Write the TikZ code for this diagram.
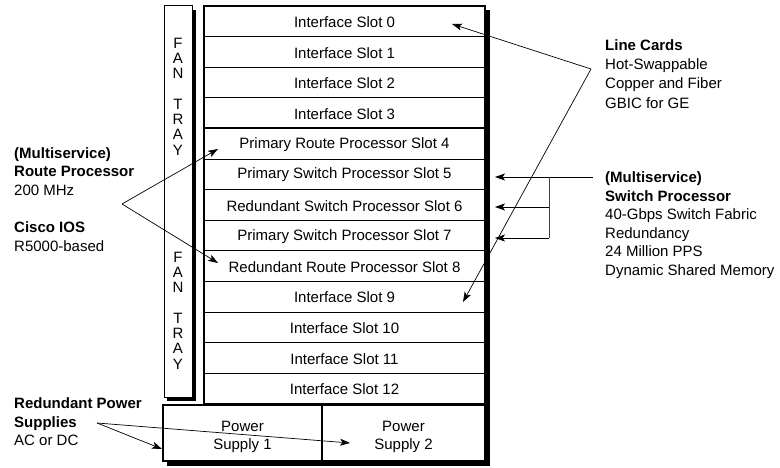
\documentclass[tikz,border=0pt]{standalone}
\usepackage{fontspec}
\setmainfont{Liberation Sans}
\usetikzlibrary{arrows.meta}
\begin{document}
\begin{tikzpicture}[x=1pt,y=-1pt,
  slotbox/.style={draw, line width=0.8pt, minimum width=281pt, minimum height=30.6pt,
    inner sep=0pt, outer sep=0pt, font=\fontsize{15}{17}\selectfont, anchor=north west},
  psbox/.style={draw, line width=1.2pt, minimum height=56pt, inner sep=0pt, outer sep=0pt,
    align=center, font=\fontsize{15}{18}\selectfont, anchor=north west},
  lbl/.style={font=\fontsize{15}{18.6}\selectfont, align=left, anchor=north west, inner sep=0pt},
  fanletter/.style={font=\fontsize{15}{17}\selectfont, inner sep=0pt},
  arr/.style={-{Stealth[length=10pt,width=7pt,inset=2.5pt]}, line width=0.7pt},
  thin/.style={line width=0.7pt},
  thick sep/.style={line width=1.8pt},
  ]
\useasboundingbox (0,0) rectangle (780,468);

% shadows
\fill (208,10) rectangle (490,409);
\fill (167,409) rectangle (490,466);
\fill (167,10) rectangle (196,401);

% fan tray
\node[draw, fill=white, line width=1pt, minimum width=28pt, minimum height=391pt,
  inner sep=0pt, outer sep=0pt, anchor=north west] (fan) at (164,6) {};
\foreach \l/\y in {F/43,A/58.3,N/73.6,T/104.2,R/119.5,A/134.8,Y/150.1,
                   F/257,A/272.3,N/287.6,T/318.2,R/333.5,A/348.8,Y/364.1}
  \node[fanletter] at (178,\y) {\l};

% chassis background
\fill[white] (204,6) rectangle (485,405);
\fill[white] (163,405) rectangle (485,461);

% slots
\foreach \i/\t in {0/Interface Slot 0,1/Interface Slot 1,2/Interface Slot 2,3/Interface Slot 3,
  4/Primary Route Processor Slot 4,5/Primary Switch Processor Slot 5,
  6/Redundant Switch Processor Slot 6,7/Primary Switch Processor Slot 7,
  8/Redundant Route Processor Slot 8,9/Interface Slot 9,10/Interface Slot 10,
  11/Interface Slot 11,12/Interface Slot 12}
  \node[slotbox] (s\i) at (204,{6+30.6*\i}) {\rule{0pt}{12.5pt}\t};

\draw[line width=1.3pt] (s0.north west) rectangle (s12.south east);
\draw[thick sep] (s3.south west) -- (s3.south east);
\draw[thick sep] (s8.south west) -- (s8.south east);

% power supplies
\node[psbox, minimum width=159pt] (ps1) at (163,405) {\rule{0pt}{19pt}Power\\Supply 1};
\node[psbox, minimum width=163pt] (ps2) at (322,405) {\rule{0pt}{19pt}Power\\Supply 2};

% labels
\node[lbl] (rp) at (14,147)
  {\textbf{(Multiservice)}\\\textbf{Route Processor}\\200 MHz\\[18.6pt]\textbf{Cisco IOS}\\R5000-based};
\node[lbl, font=\fontsize{15}{19.2}\selectfont] (lc) at (605,39.5)
  {\textbf{Line Cards}\\Hot-Swappable\\Copper and Fiber\\GBIC for GE};
\node[lbl] (sp) at (605,171.5)
  {\textbf{(Multiservice)}\\\textbf{Switch Processor}\\40-Gbps Switch Fabric\\Redundancy\\24 Million PPS\\Dynamic Shared Memory};
\node[lbl] (pw) at (14,397.5)
  {\textbf{Redundant Power}\\\textbf{Supplies}\\AC or DC};

% connector points
\coordinate (rpA) at (122,204);
\coordinate (rpT4) at (218,149);
\coordinate (rpT8) at (218,263);
\coordinate (lcA) at (591,69);
\coordinate (lcT0) at (452,24);
\coordinate (lcT9) at (463,302);
\coordinate (spA) at (593,177);
\coordinate (spB) at (549,177);
\coordinate (spB6) at (549,207);
\coordinate (spB7) at (549,238);
\coordinate (spT5) at (495,177);
\coordinate (spT6) at (495,207);
\coordinate (spT7) at (495,238);
\coordinate (pwA) at (97,423);
\coordinate (pwT1) at (162,449);
\coordinate (pwT2) at (350,443);

% connectors
\draw[arr] (rpA) -- (rpT4);
\draw[arr] (rpA) -- (rpT8);
\draw[arr] (lcA) -- (lcT0);
\draw[arr] (lcA) -- (lcT9);
\draw[arr] (spA) -- (spT5);
\draw[thin, black!75] (spB) -- (spB7);
\draw[arr] (spB6) -- (spT6);
\draw[arr] (spB7) -- (spT7);
\draw[arr] (pwA) -- (pwT1);
\draw[arr] (pwA) -- (pwT2);
\end{tikzpicture}
\end{document}
